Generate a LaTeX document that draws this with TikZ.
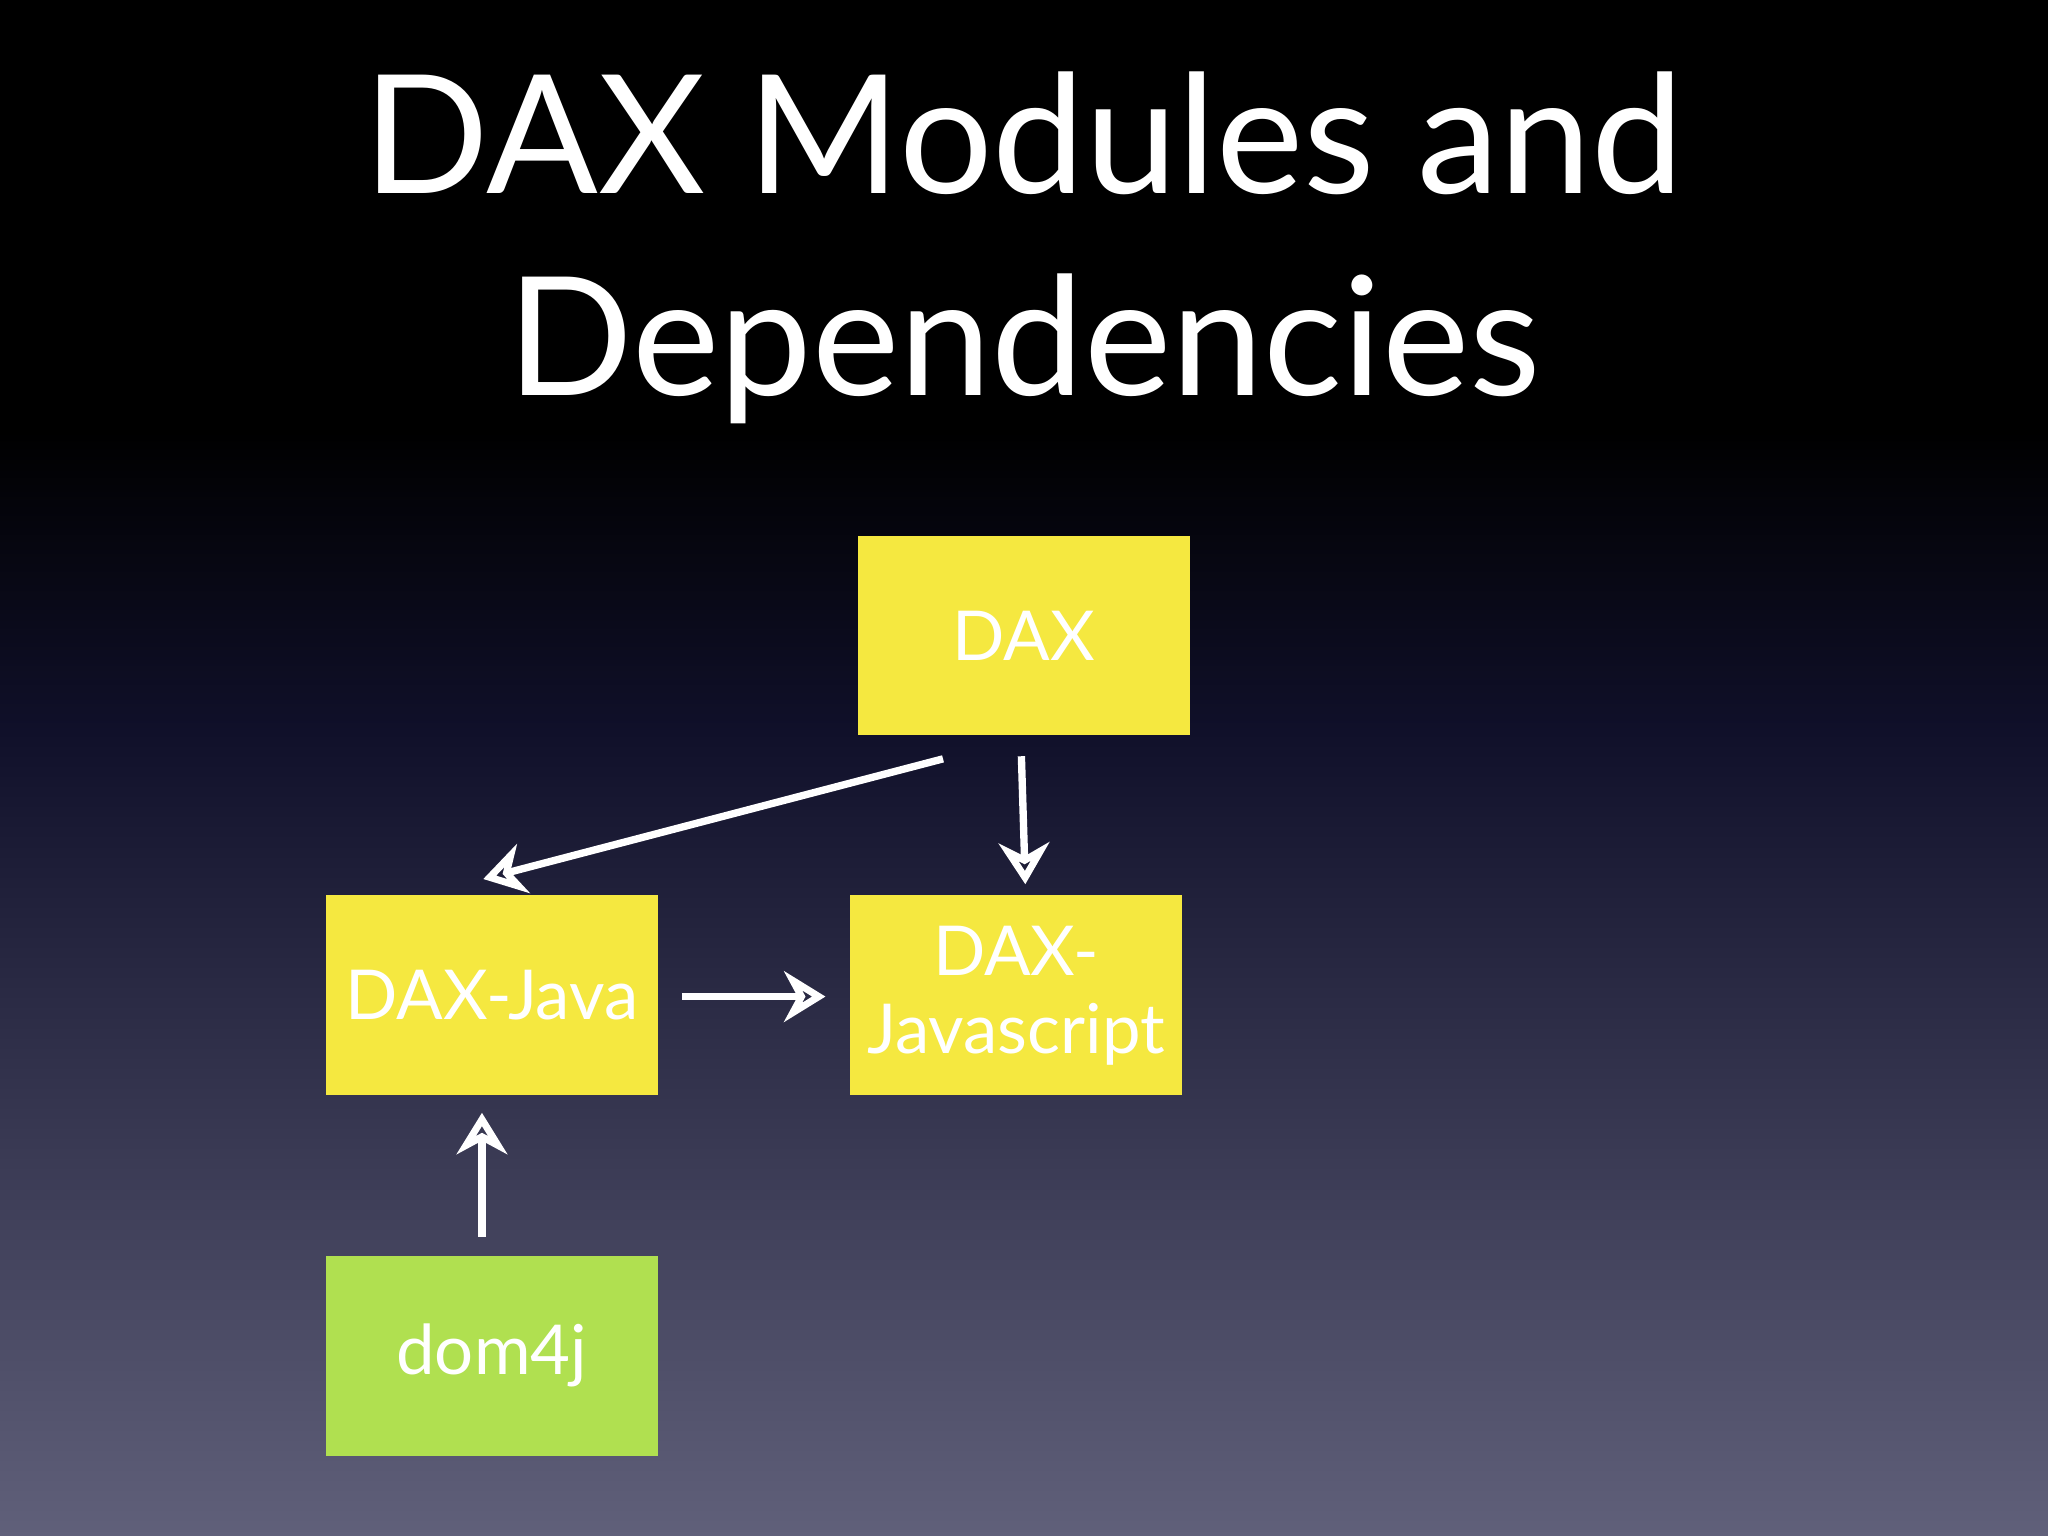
\documentclass[tikz,border=0pt]{standalone}
\usepackage{fontspec}
\setmainfont{Lato}
\usetikzlibrary{arrows.meta,shadows}
\definecolor{boxy}{HTML}{F5E840}
\definecolor{boxg}{HTML}{B0E050}
\definecolor{bgbot}{HTML}{60607A}
\definecolor{bgmid}{HTML}{10102A}
\tikzset{
  box/.style={minimum width=2.54cm,minimum height=1.53cm,inner sep=0pt,align=center,text=white,font=\fontsize{15}{17}\selectfont},
  arr/.style={draw=white,line width=1.6pt,-{Stealth[length=9pt,width=11pt,open,line width=1.6pt]}}
}
\newcommand{\shtext}[1]{#1}
\begin{document}
\begin{tikzpicture}[x=1cm,y=-1cm]
\useasboundingbox (0,0) rectangle (15.68,11.76);
\fill[black] (0,0) rectangle (15.68,3.3);
\shade[top color=black,bottom color=bgmid] (0,3.3) rectangle (15.68,5.6);
\shade[top color=bgmid,bottom color=bgbot] (0,5.6) rectangle (15.68,11.76);
\node[text=white,align=center,font=\fontsize{36}{44}\selectfont] (title) at (7.84,1.9) {DAX Modules and\\Dependencies};
\node[box,fill=boxy] (dax) at (7.84,4.865) {DAX};
\node[box,fill=boxy] (java) at (3.765,7.62) {DAX-Java};
\node[box,fill=boxy] (js) at (7.78,7.62) {DAX-\\Javascript};
\node[box,fill=boxg] (dom) at (3.765,10.38) {dom4j};
\coordinate (a1) at (7.22,5.81); \coordinate (a2) at (3.70,6.73);
\coordinate (b1) at (7.82,5.79); \coordinate (b2) at (7.85,6.77);
\coordinate (c1) at (5.22,7.63); \coordinate (c2) at (6.32,7.63);
\coordinate (d1) at (3.69,9.47); \coordinate (d2) at (3.69,8.52);
\draw[arr] (a1) -- (a2);
\draw[arr] (b1) -- (b2);
\draw[arr] (c1) -- (c2);
\draw[arr] (d1) -- (d2);
\end{tikzpicture}
\end{document}
